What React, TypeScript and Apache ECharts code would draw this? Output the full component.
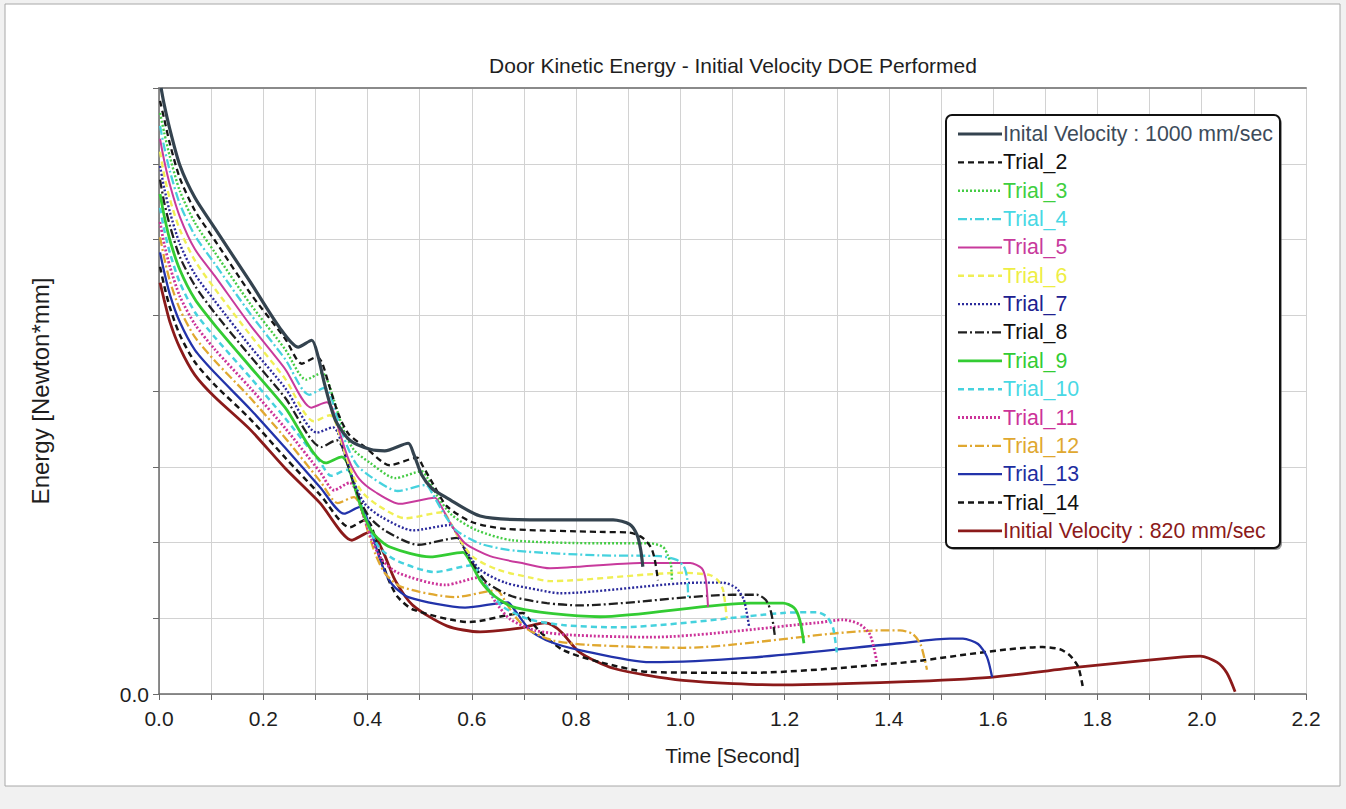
import React, { useEffect, useRef } from "react";
import * as echarts from "echarts";

const FONT = "'Liberation Sans', Arial, Helvetica, sans-serif";

const titleText = "Door Kinetic Energy - Initial Velocity DOE Performed";
const xAxisName = "Time [Second]";
const yAxisName = "Energy [Newton*mm]";

const seriesNames = [
  "Inital Velocity : 1000 mm/sec",
  "Trial_2",
  "Trial_3",
  "Trial_4",
  "Trial_5",
  "Trial_6",
  "Trial_7",
  "Trial_8",
  "Trial_9",
  "Trial_10",
  "Trial_11",
  "Trial_12",
  "Trial_13",
  "Trial_14",
  "Initial Velocity : 820 mm/sec",
];

// [time (s), energy (grid units)]
const vel1000 = [[0.004,8.00],[0.010,7.78],[0.021,7.45],[0.040,6.98],[0.069,6.55],[0.107,6.15],[0.175,5.44],[0.232,4.83],[0.267,4.58],[0.293,4.67],[0.305,4.46],[0.318,4.08],[0.338,3.62],[0.366,3.35],[0.405,3.23],[0.433,3.21],[0.478,3.31],[0.489,3.16],[0.504,2.89],[0.524,2.71],[0.552,2.59],[0.616,2.35],[0.712,2.30],[0.871,2.30],[0.903,2.24],[0.917,2.10],[0.924,1.90],[0.928,1.68]];
const trial2 = [[0.002,7.83],[0.010,7.59],[0.021,7.26],[0.040,6.81],[0.069,6.38],[0.107,5.99],[0.175,5.29],[0.242,4.69],[0.274,4.36],[0.303,4.45],[0.313,4.37],[0.326,4.08],[0.345,3.68],[0.364,3.43],[0.395,3.26],[0.443,3.02],[0.495,3.12],[0.506,3.01],[0.526,2.77],[0.552,2.48],[0.600,2.27],[0.664,2.18],[0.846,2.14],[0.903,2.13],[0.928,2.06],[0.944,1.93],[0.951,1.77],[0.957,1.50]];
const trial3 = [[0.002,7.67],[0.010,7.41],[0.021,7.09],[0.040,6.64],[0.069,6.22],[0.107,5.83],[0.175,5.15],[0.242,4.55],[0.282,4.15],[0.313,4.24],[0.322,4.16],[0.336,3.87],[0.355,3.47],[0.374,3.22],[0.405,3.05],[0.453,2.85],[0.504,2.94],[0.516,2.84],[0.535,2.60],[0.562,2.36],[0.610,2.16],[0.677,2.03],[0.846,1.99],[0.942,1.99],[0.967,1.94],[0.976,1.83],[0.982,1.70],[0.984,1.48]];
const trial4 = [[0.002,7.50],[0.010,7.22],[0.021,6.90],[0.040,6.47],[0.069,6.05],[0.107,5.68],[0.175,5.02],[0.242,4.42],[0.288,3.95],[0.318,4.04],[0.328,3.96],[0.341,3.67],[0.361,3.27],[0.380,3.02],[0.410,2.85],[0.458,2.68],[0.512,2.76],[0.524,2.65],[0.543,2.42],[0.570,2.16],[0.618,1.98],[0.685,1.89],[0.846,1.83],[0.961,1.82],[0.993,1.77],[1.007,1.68],[1.013,1.53],[1.015,1.28]];
const trial5 = [[0.002,7.33],[0.010,7.04],[0.021,6.72],[0.040,6.30],[0.069,5.87],[0.107,5.52],[0.175,4.87],[0.242,4.29],[0.292,3.78],[0.322,3.85],[0.332,3.78],[0.345,3.49],[0.364,3.09],[0.384,2.84],[0.414,2.67],[0.462,2.51],[0.529,2.59],[0.541,2.48],[0.560,2.24],[0.587,1.99],[0.635,1.82],[0.702,1.72],[0.750,1.66],[0.923,1.73],[1.019,1.73],[1.041,1.66],[1.049,1.50],[1.053,1.15]];
const trial6 = [[0.002,7.16],[0.010,6.85],[0.021,6.53],[0.040,6.13],[0.069,5.72],[0.107,5.35],[0.175,4.74],[0.242,4.16],[0.297,3.60],[0.328,3.68],[0.338,3.60],[0.351,3.31],[0.370,2.92],[0.389,2.67],[0.420,2.49],[0.472,2.32],[0.545,2.40],[0.556,2.30],[0.575,2.06],[0.602,1.81],[0.650,1.64],[0.717,1.53],[0.750,1.49],[1.005,1.60],[1.057,1.57],[1.072,1.50],[1.082,1.37],[1.089,1.00]];
const trial7 = [[0.002,6.97],[0.010,6.68],[0.021,6.36],[0.040,5.94],[0.069,5.54],[0.107,5.19],[0.175,4.59],[0.242,4.04],[0.303,3.45],[0.334,3.52],[0.343,3.45],[0.357,3.16],[0.376,2.76],[0.395,2.51],[0.426,2.34],[0.487,2.16],[0.558,2.23],[0.570,2.13],[0.589,1.89],[0.616,1.64],[0.664,1.47],[0.731,1.37],[0.769,1.33],[1.038,1.47],[1.082,1.47],[1.107,1.40],[1.122,1.24],[1.132,0.88]];
const trial8 = [[0.002,6.79],[0.010,6.49],[0.021,6.18],[0.040,5.77],[0.069,5.39],[0.107,5.03],[0.175,4.46],[0.242,3.91],[0.311,3.26],[0.341,3.35],[0.351,3.27],[0.364,2.98],[0.384,2.59],[0.403,2.34],[0.433,2.16],[0.497,1.97],[0.572,2.06],[0.583,1.95],[0.602,1.72],[0.629,1.47],[0.677,1.29],[0.744,1.20],[0.807,1.17],[1.101,1.31],[1.147,1.31],[1.164,1.24],[1.174,1.08],[1.181,0.78]];
const trial9 = [[0.002,6.60],[0.010,6.31],[0.021,5.99],[0.040,5.60],[0.069,5.21],[0.107,4.87],[0.175,4.32],[0.242,3.78],[0.320,3.05],[0.351,3.13],[0.361,3.05],[0.374,2.76],[0.393,2.36],[0.412,2.11],[0.443,1.94],[0.520,1.81],[0.583,1.87],[0.595,1.77],[0.616,1.50],[0.644,1.29],[0.679,1.15],[0.756,1.06],[0.846,1.02],[1.134,1.20],[1.197,1.20],[1.218,1.14],[1.229,0.98],[1.237,0.67]];
const trial10 = [[0.002,6.42],[0.010,6.13],[0.021,5.82],[0.040,5.43],[0.069,5.04],[0.107,4.71],[0.175,4.18],[0.242,3.64],[0.309,3.06],[0.330,2.88],[0.361,2.96],[0.370,2.88],[0.384,2.59],[0.403,2.19],[0.422,1.94],[0.453,1.77],[0.529,1.61],[0.602,1.70],[0.614,1.60],[0.633,1.37],[0.660,1.15],[0.708,0.99],[0.775,0.91],[0.878,0.88],[1.197,1.07],[1.262,1.08],[1.281,1.02],[1.293,0.87],[1.300,0.55]];
const trial11 = [[0.002,6.23],[0.010,5.94],[0.021,5.64],[0.040,5.25],[0.069,4.88],[0.107,4.55],[0.175,4.04],[0.242,3.51],[0.309,2.93],[0.336,2.69],[0.366,2.79],[0.376,2.71],[0.389,2.42],[0.409,2.02],[0.428,1.77],[0.458,1.60],[0.549,1.44],[0.616,1.54],[0.627,1.44],[0.646,1.21],[0.673,0.99],[0.721,0.84],[0.788,0.78],[0.942,0.75],[1.262,0.94],[1.312,0.98],[1.344,0.92],[1.364,0.78],[1.377,0.42]];
const trial12 = [[0.002,6.03],[0.010,5.76],[0.021,5.45],[0.040,5.08],[0.069,4.71],[0.107,4.40],[0.175,3.91],[0.242,3.38],[0.309,2.81],[0.343,2.52],[0.374,2.60],[0.384,2.52],[0.397,2.23],[0.416,1.83],[0.435,1.58],[0.466,1.41],[0.568,1.28],[0.648,1.37],[0.660,1.27],[0.679,1.06],[0.706,0.86],[0.754,0.71],[0.821,0.65],[1.005,0.61],[1.389,0.84],[1.421,0.84],[1.446,0.79],[1.461,0.65],[1.473,0.32]];
const trial13 = [[0.002,5.83],[0.010,5.57],[0.021,5.27],[0.040,4.91],[0.069,4.54],[0.107,4.24],[0.175,3.76],[0.242,3.25],[0.309,2.73],[0.355,2.38],[0.386,2.47],[0.395,2.39],[0.409,2.10],[0.428,1.70],[0.447,1.45],[0.478,1.28],[0.587,1.14],[0.669,1.21],[0.681,1.12],[0.712,0.84],[0.750,0.69],[0.807,0.58],[0.942,0.42],[1.134,0.48],[1.421,0.67],[1.517,0.73],[1.542,0.73],[1.571,0.66],[1.588,0.49],[1.598,0.22]];
const trial14 = [[0.002,5.64],[0.010,5.39],[0.021,5.10],[0.040,4.74],[0.069,4.38],[0.107,4.08],[0.175,3.63],[0.242,3.12],[0.309,2.63],[0.366,2.20],[0.397,2.30],[0.407,2.22],[0.420,1.93],[0.439,1.53],[0.458,1.28],[0.489,1.11],[0.596,0.95],[0.698,1.07],[0.710,0.99],[0.731,0.82],[0.775,0.58],[0.846,0.42],[0.942,0.29],[1.134,0.28],[1.421,0.41],[1.695,0.62],[1.728,0.59],[1.747,0.51],[1.763,0.36],[1.772,0.09]];
const vel820 = [[0.002,5.43],[0.010,5.20],[0.021,4.91],[0.040,4.57],[0.069,4.21],[0.107,3.92],[0.175,3.49],[0.242,2.98],[0.309,2.52],[0.370,2.03],[0.405,2.14],[0.416,2.07],[0.433,1.83],[0.453,1.50],[0.487,1.17],[0.552,0.90],[0.616,0.82],[0.692,0.87],[0.740,0.94],[0.754,0.91],[0.773,0.81],[0.807,0.55],[0.871,0.34],[1.005,0.18],[1.197,0.12],[1.421,0.16],[1.594,0.22],[1.772,0.36],[1.964,0.49],[1.997,0.50],[2.029,0.42],[2.048,0.28],[2.064,0.03]];

const seriesData = [vel1000, trial2, trial3, trial4, trial5, trial6, trial7, trial8, trial9, trial10, trial11, trial12, trial13, trial14, vel820];

const seriesStyles = [
  { color: "#34434f", width: 3.2, dash: null, text: "#3d4b5a" },
  { color: "#151515", width: 2.3, dash: [6, 4], text: "#111111" },
  { color: "#45cc45", width: 2.4, dash: [2, 2], text: "#3fcf3f" },
  { color: "#46d2de", width: 2.3, dash: [9, 3, 2, 3], text: "#48d8e4" },
  { color: "#c83a9c", width: 2, dash: null, text: "#c83a9c" },
  { color: "#f0ef55", width: 2.4, dash: [6, 4], text: "#eeee44" },
  { color: "#2b2b9c", width: 2.4, dash: [2, 2], text: "#20208f" },
  { color: "#202020", width: 2.3, dash: [9, 3, 2, 3], text: "#111111" },
  { color: "#33cc33", width: 2.8, dash: null, text: "#33cc33" },
  { color: "#46d2de", width: 2.5, dash: [6, 4], text: "#48d8e4" },
  { color: "#cc3399", width: 2.8, dash: [2, 2], text: "#cc3399" },
  { color: "#e0a830", width: 2.3, dash: [9, 3, 2, 3], text: "#e0a830" },
  { color: "#2233aa", width: 2.3, dash: null, text: "#1e2ea0" },
  { color: "#151515", width: 2.5, dash: [6, 4], text: "#111111" },
  { color: "#8b1a1a", width: 2.8, dash: null, text: "#8b1a1a" },
];

function buildLegend() {
  const elements: any[] = [];
  const boxX = 946, boxY = 115, boxW = 334, boxH = 433;
  elements.push({
    type: "rect",
    z: 100,
    shape: { x: boxX + 2, y: boxY + 2, width: boxW, height: boxH, r: 6 },
    style: { fill: "#555", opacity: 0.6 },
  });
  elements.push({
    type: "rect",
    z: 101,
    shape: { x: boxX, y: boxY, width: boxW, height: boxH, r: 6 },
    style: { fill: "#ffffff", stroke: "#111111", lineWidth: 2 },
  });
  seriesNames.forEach((name, k) => {
    const st = seriesStyles[k];
    const y = 134 + k * 28.35;
    elements.push({
      type: "line",
      z: 102,
      shape: { x1: 958, y1: y, x2: 1002, y2: y },
      style: { stroke: st.color, lineWidth: st.width, lineDash: st.dash || undefined },
    });
    elements.push({
      type: "text",
      z: 102,
      x: 1003,
      y: y,
      style: {
        text: name,
        fill: st.text,
        font: `21.3px ${FONT}`,
        textVerticalAlign: "middle",
        verticalAlign: "middle",
        textAlign: "left",
      },
    });
  });
  return elements;
}

export default function App() {
  const ref = useRef<HTMLDivElement>(null);
  useEffect(() => {
    if (!ref.current) return;
    const chart = echarts.init(ref.current, null, { renderer: "svg" });
    const option: any = {
      animation: false,
      backgroundColor: "#f1f1f1",
      title: {
        text: titleText,
        left: 733,
        top: 55,
        padding: 0,
        textAlign: "center",
        textStyle: { fontFamily: FONT, fontSize: 21, fontWeight: "normal", color: "#1e1e1e" },
      },
      grid: { left: 159, right: 40, top: 88, bottom: 115, containLabel: false },
      xAxis: [
        {
          type: "value",
          min: 0,
          max: 2.2,
          interval: 0.1,
          name: xAxisName,
          nameLocation: "middle",
          nameGap: 51,
          nameTextStyle: { fontFamily: FONT, fontSize: 21, color: "#1e1e1e" },
          axisLine: { show: true, lineStyle: { color: "#6a6a6a", width: 1.5 } },
          axisTick: { show: true, length: 6, lineStyle: { color: "#6a6a6a" } },
          axisLabel: {
            fontFamily: FONT,
            fontSize: 21,
            color: "#1e1e1e",
            margin: 14,
            formatter: (v: number) => {
              const k = Math.round(v * 10);
              return k % 2 === 0 ? (k / 10).toFixed(1) : "";
            },
          },
          splitLine: { show: true, lineStyle: { color: "#d2d2d2", width: 1 } },
        },
        {
          type: "value",
          position: "top",
          min: 0,
          max: 2.2,
          interval: 0.1,
          axisLine: { show: true, lineStyle: { color: "#8a8a8a", width: 2 } },
          axisTick: { show: false },
          axisLabel: { show: false },
          splitLine: { show: false },
        },
      ],
      yAxis: {
        type: "value",
        min: 0,
        max: 8,
        interval: 1,
        name: yAxisName,
        nameLocation: "middle",
        nameGap: 107,
        nameTextStyle: { fontFamily: FONT, fontSize: 24, color: "#1e1e1e" },
        axisLine: { show: true, lineStyle: { color: "#6a6a6a", width: 1.5 } },
        axisTick: { show: true, length: 6, lineStyle: { color: "#6a6a6a" } },
        axisLabel: {
          fontFamily: FONT,
          fontSize: 21,
          color: "#1e1e1e",
          margin: 10,
          formatter: (v: number) => (v === 0 ? "0.0" : ""),
        },
        splitLine: { show: true, lineStyle: { color: "#d2d2d2", width: 1 } },
      },
      graphic: {
        elements: [
          {
            type: "rect",
            z: -10,
            silent: true,
            shape: { x: 5, y: 4, width: 1335, height: 782 },
            style: { fill: "#ffffff", stroke: "#a8a8a8", lineWidth: 1 },
          },
          ...buildLegend(),
        ],
      },
      series: seriesData.map((d, k) => ({
        name: seriesNames[k],
        type: "line",
        data: d,
        xAxisIndex: 0,
        showSymbol: false,
        symbol: "none",
        smooth: 0.25,
        lineStyle: {
          color: seriesStyles[k].color,
          width: seriesStyles[k].width,
          type: seriesStyles[k].dash || "solid",
        },
        z: 2 + (14 - k) * 0.01,
      })),
    };
    chart.setOption(option);
    return () => chart.dispose();
  }, []);
  return (
    <div
      ref={ref}
      style={{ position: "fixed", left: 0, top: 0, width: 1346, height: 809 }}
    />
  );
}
